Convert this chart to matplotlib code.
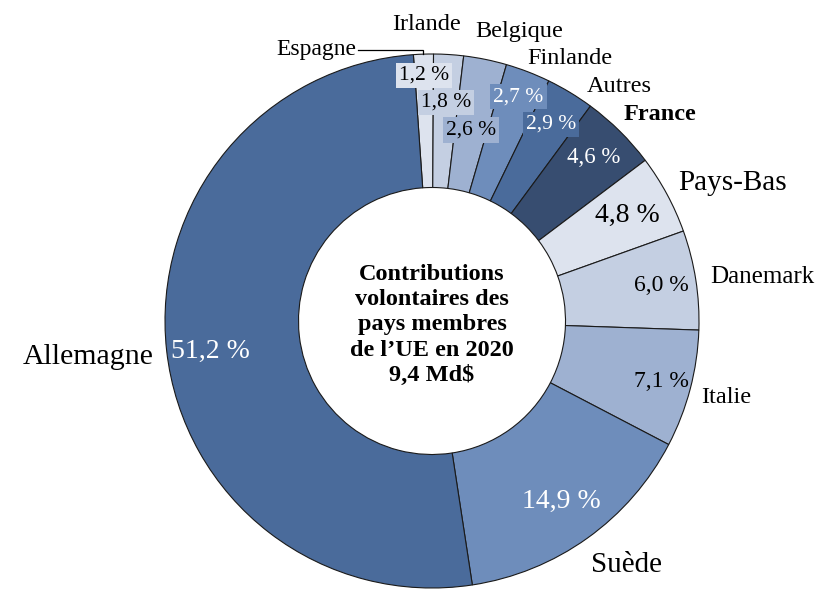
import numpy as np
import matplotlib
matplotlib.use("Agg")
import matplotlib.pyplot as plt

plt.rcParams['font.family'] = ['Liberation Serif', 'DejaVu Serif']

# données (ordre horaire à partir du haut)
pays = ['Espagne', 'Irlande', 'Belgique', 'Finlande', 'Autres', 'France',
        'Pays-Bas', 'Danemark', 'Italie', 'Suède', 'Allemagne']
parts = [1.2, 1.8, 2.6, 2.7, 2.9, 4.6, 4.8, 6.0, 7.1, 14.9, 51.2]
couleurs = ['#dde3ee', '#c4cfe2', '#9eb1d1', '#6e8dbb', '#4a6b9b', '#374d70',
            '#dde3ee', '#c4cfe2', '#9eb1d1', '#6e8dbb', '#4a6b9b']
titre = "Contributions\nvolontaires des\npays membres\nde l\u2019UE en 2020\n9,4 Md$"

# mise en page des étiquettes
pct_dist = [0.92, 0.82, 0.73, 0.90, 0.86, 0.86, 0.83, 0.87, 0.89, 0.83, 0.835]
pct_size = [15.5, 15.5, 15.5, 15.5, 15.5, 16.5, 20, 17, 17, 20, 20]
pct_box = [True, True, True, True, True, False, False, False, False, False, False]
pct_white = [False, False, False, True, True, True, False, False, False, True, True]
lab_pos = [(-0.285, 1.015), (-0.019, 1.11), (0.326, 1.084), (0.517, 0.985),
           (0.700, 0.880), (0.854, 0.772), (1.127, 0.515), (1.236, 0.166),
           (1.101, -0.287), (0.727, -0.912), (-1.288, -0.133)]
lab_size = [17, 17.5, 17.5, 17.5, 17.5, 17.5, 21, 18, 17.5, 21, 21.5]

fig = plt.figure(figsize=(8.38, 6.01), dpi=100)
ax = fig.add_axes([0, 0, 1, 1])

start = 94
wedges, _ = ax.pie(parts, colors=couleurs, startangle=start, counterclock=False,
                   radius=1.0,
                   wedgeprops=dict(width=0.5, edgecolor='#1a1a1a', linewidth=0.8))

for i, w in enumerate(wedges):
    mid = np.deg2rad((w.theta1 + w.theta2) / 2)
    x, y = pct_dist[i] * np.cos(mid), pct_dist[i] * np.sin(mid)
    if pays[i] == 'Allemagne':
        y -= 0.02
    txt = f"{parts[i]:.1f} %".replace('.', ',')
    kw = {}
    if pct_box[i]:
        kw['bbox'] = dict(boxstyle='square,pad=0.14', facecolor=couleurs[i],
                          edgecolor='none')
    ax.text(x, y, txt, ha='center', va='center', fontsize=pct_size[i],
            color='white' if pct_white[i] else 'black', **kw)

    lx, ly = lab_pos[i]
    ha = 'right' if pays[i] == 'Espagne' else 'center'
    ax.text(lx, ly, pays[i], ha=ha, va='center', fontsize=lab_size[i],
            fontweight='bold' if pays[i] == 'France' else 'normal')
    if pays[i] == 'Espagne':
        ex = np.cos(mid)
        ax.plot([lx + 0.008, ex, ex], [ly, ly, np.sin(mid)], color='black',
                lw=0.9, solid_joinstyle='miter')

ax.text(0, -0.015, titre, ha='center', va='center', fontsize=17.5,
        fontweight='bold', linespacing=1.27)

ax.set_aspect('auto')
ax.set_xlim(-432 / 267, (838 - 432) / 267)
ax.set_ylim((321 - 601) / 267, 321 / 267)
ax.axis('off')

fig.savefig('out.png', dpi=100)
